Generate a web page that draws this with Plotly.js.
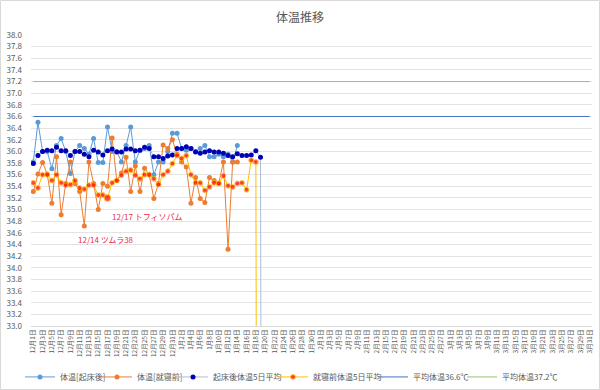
<!DOCTYPE html>
<html>
<head>
<meta charset="utf-8">
<script src="https://cdn.plot.ly/plotly-3.0.1.min.js"></script>
<style>html,body{margin:0;padding:0;background:#fff;}#chart{width:600px;height:390px;}</style>
</head>
<body>
<div id="chart"></div>
<script>
// category axis: 12月1日 .. 3月31日
const months = ['12月', '1月', '2月', '3月'];
const monthDays = [31, 31, 28, 31];
const categories = [];
months.forEach((m, k) => { for (let d = 1; d <= monthDays[k]; d++) categories.push(m + d + '日'); });
const tickLabels = categories.filter((c, i) => i % 2 === 0);

// 体温[起床後]
const wakeTemp = [35.82,36.50,36.00,36.00,35.70,36.10,36.22,36.00,35.62,36.00,36.10,36.05,35.95,36.22,35.81,35.81,36.42,36.00,36.00,35.82,
  36.10,36.42,35.82,36.02,36.05,36.10,35.60,35.82,35.82,36.00,36.31,36.31,36.05,36.02,36.05,36.00,36.05,36.10,35.91,35.91,
  35.95,35.91,35.95,35.82,36.10];
// 体温[就寝前]
const bedTemp = [35.31,35.61,35.81,35.61,35.11,35.91,34.91,35.45,35.82,35.45,35.31,34.72,35.82,35.45,35.00,35.45,35.40,36.23,35.50,35.63,
  35.90,35.31,35.75,35.31,35.71,35.60,35.19,35.45,36.11,36.05,36.20,35.95,35.82,35.73,35.11,35.55,35.19,35.12,35.55,35.50,
  35.45,35.82,34.32,35.82,35.82];
// 起床後体温5日平均 (drops to 0 after the last value)
const wakeAvg5 = [35.79,35.93,36.00,36.02,36.01,36.07,36.01,36.01,35.93,36.00,36.00,35.95,35.91,36.02,35.99,35.94,36.01,36.04,35.99,35.99,
  36.04,36.04,36.01,36.02,36.07,36.05,35.91,35.91,35.88,35.92,35.94,36.05,36.05,36.08,36.05,35.99,35.97,35.99,36.01,35.99,
  35.99,35.97,35.93,35.91,35.96,35.93,35.93,35.94,36.01,35.90,0];
// 就寝前体温5日平均 (drops to 0 after the last value)
const bedAvg5 = [35.46,35.37,35.60,35.60,35.50,35.60,35.46,35.42,35.43,35.50,35.37,35.35,35.42,35.42,35.25,35.25,35.20,35.46,35.50,35.59,
  35.66,35.68,35.59,35.53,35.60,35.60,35.53,35.43,35.60,35.66,35.79,35.93,35.88,35.93,35.60,35.46,35.46,35.33,35.39,35.46,
  35.45,35.58,35.41,35.39,35.45,35.46,35.34,35.85,35.82,0];
const meanTemp1 = 36.6;
const meanTemp2 = 37.2;
const seriesNames = ['体温[起床後]', '体温[就寝前]', '起床後体温5日平均', '就寝前体温5日平均', '平均体温36.6℃', '平均体温37.2℃'];
const noteTexts = ['12/17 トフィソパム', '12/14 ツムラ38'];

const FONT = '"Noto Sans CJK JP", "Noto Sans", sans-serif';
const GRAY = '#595959';

const traces = [
  {name: seriesNames[0], x: categories.slice(0, wakeTemp.length), y: wakeTemp, mode: 'lines+markers',
   line: {color: '#5B9BD5', width: 1}, marker: {color: '#5B9BD5', size: 5}, legend: 'legend'},
  {name: seriesNames[1], x: categories.slice(0, bedTemp.length), y: bedTemp, mode: 'lines+markers',
   line: {color: '#ED7D31', width: 1}, marker: {color: '#ED7D31', size: 5}, legend: 'legend2'},
  {name: seriesNames[2], x: categories.slice(0, wakeAvg5.length), y: wakeAvg5, mode: 'lines+markers',
   line: {color: '#AEBCDB', width: 1}, marker: {color: '#0000B4', size: 5}, legend: 'legend3'},
  {name: seriesNames[3], x: categories.slice(0, bedAvg5.length), y: bedAvg5, mode: 'lines+markers',
   line: {color: '#FFC000', width: 1},
   marker: {color: '#FF0000', size: bedAvg5.map((v, i) => i === 16 ? 7 : 5)}, legend: 'legend4'},
  {name: seriesNames[4], x: categories, y: categories.map(() => meanTemp1), mode: 'lines',
   line: {color: '#4472C4', width: 1}, legend: 'legend5'},
  {name: seriesNames[5], x: categories, y: categories.map(() => meanTemp2), mode: 'lines',
   line: {color: '#92C46F', width: 1}, legend: 'legend6'}
];

const W = 561;
const legendBase = {orientation: 'h', yanchor: 'middle', y: -0.175, xanchor: 'left',
  font: {family: FONT, size: 8, color: GRAY}, bgcolor: 'rgba(0,0,0,0)', itemwidth: 30};
function lg(px) { return Object.assign({}, legendBase, {x: (px - 31) / W}); }

const layout = {
  width: 600, height: 390,
  margin: {l: 31, r: 8, t: 35, b: 64, autoexpand: false},
  showlegend: true,
  paper_bgcolor: '#fff', plot_bgcolor: '#fff',
  font: {family: FONT, color: GRAY},
  title: {text: '体温推移', font: {family: FONT, size: 12, color: GRAY}, x: 0.5, xref: 'container',
          y: 1 - 18 / 390, yref: 'container', yanchor: 'middle'},
  xaxis: {type: 'category', categoryorder: 'array', categoryarray: categories,
          range: [-0.5, categories.length - 0.5], tickmode: 'array', tickvals: tickLabels, ticktext: tickLabels,
          tickangle: -90, tickfont: {family: FONT, size: 6.5, color: GRAY}, showgrid: false,
          showline: true, linecolor: '#D9D9D9', linewidth: 1, ticks: '', zeroline: false, fixedrange: true},
  yaxis: {range: [33, 38], dtick: 0.2, tick0: 33, tickformat: '.1f', showgrid: true, gridcolor: '#E3E3E3',
          gridwidth: 1, zeroline: false, showline: false, ticks: '', ticklabelstandoff: 8,
          tickfont: {family: FONT, size: 8, color: GRAY}, fixedrange: true},
  legend: lg(20), legend2: lg(97), legend3: lg(173), legend4: lg(273), legend5: lg(373), legend6: lg(462),
  annotations: [
    {x: 16.5, y: 34.89, xref: 'x', yref: 'y', text: noteTexts[0], showarrow: false, xanchor: 'left', yanchor: 'middle',
     font: {family: FONT, size: 8, color: '#EE2C4C'}},
    {x: 9.2, y: 34.48, xref: 'x', yref: 'y', text: noteTexts[1], showarrow: false, xanchor: 'left', yanchor: 'middle',
     font: {family: FONT, size: 8, color: '#EE2C4C'}}
  ],
  shapes: [
    {type: 'rect', xref: 'paper', yref: 'paper', x0: -30.5 / W, x1: 1 + 7.5 / W, y0: -63.5 / 291, y1: 1 + 34.5 / 291,
     line: {color: '#D9D9D9', width: 1}, fillcolor: 'rgba(0,0,0,0)', layer: 'below'}
  ],
  hovermode: false
};

Plotly.newPlot('chart', traces, layout, {staticPlot: true, displayModeBar: false});
</script>
</body>
</html>
